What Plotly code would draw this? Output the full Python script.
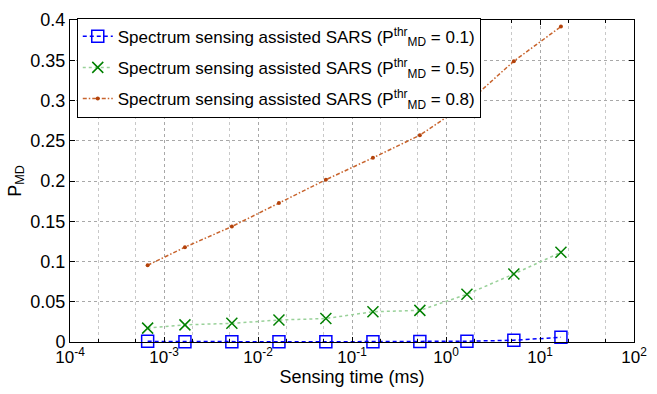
import plotly.graph_objects as go

# Sensing time (ms)
sensing_time = [6.7e-4, 1.67e-3, 5.27e-3, 0.0167, 0.0527, 0.167, 0.527, 1.67, 5.27, 16.7]

# P_MD for each threshold
pmd_thr01 = [0.0008, 0.0004, 0.0003, 0.0003, 0.0003, 0.0004, 0.0006, 0.0010, 0.0022, 0.0058]
pmd_thr05 = [0.0172, 0.0213, 0.0232, 0.0273, 0.0292, 0.0376, 0.0393, 0.0593, 0.0845, 0.1114]
pmd_thr08 = [0.0953, 0.1178, 0.1434, 0.1727, 0.2016, 0.2288, 0.2568, 0.2965, 0.3489, 0.3918]

series_names = [
    "Spectrum sensing assisted SARS (P<sup>thr</sup><sub>MD</sub> = 0.1)",
    "Spectrum sensing assisted SARS (P<sup>thr</sup><sub>MD</sub> = 0.5)",
    "Spectrum sensing assisted SARS (P<sup>thr</sup><sub>MD</sub> = 0.8)",
]

x_tick_vals = [1e-4, 1e-3, 1e-2, 1e-1, 1e0, 1e1, 1e2]
x_tick_text = ["10<sup>-4</sup>", "10<sup>-3</sup>", "10<sup>-2</sup>", "10<sup>-1</sup>",
               "10<sup>0</sup>", "10<sup>1</sup>", "10<sup>2</sup>"]

fig = go.Figure()

fig.add_trace(go.Scatter(
    x=sensing_time, y=pmd_thr01, name=series_names[0], mode="lines+markers",
    legendgroup="a",
    line=dict(color="#0000ff", width=1.5, dash="4px,3px"),
    marker=dict(symbol="square-open", size=12, color="#0000ff", line=dict(width=1.5)),
    cliponaxis=False,
))
fig.add_trace(go.Scatter(
    x=sensing_time, y=pmd_thr05, name=series_names[1], mode="lines+markers",
    legendgroup="b",
    line=dict(color="#99d199", width=1.5, dash="dot"),
    marker=dict(symbol="x-thin-open", size=11, color="#008000", line=dict(width=1.5, color="#008000")),
    cliponaxis=False,
))
fig.add_trace(go.Scatter(
    x=sensing_time, y=pmd_thr08, name=series_names[2], mode="lines+markers",
    legendgroup="c",
    line=dict(color="#c8642d", width=1.5, dash="4px,2px,1.5px,2px"),
    marker=dict(symbol="circle", size=4, color="#b4420a"),
    cliponaxis=False,
))

font_family = "Liberation Sans, Arial, Helvetica, sans-serif"

fig.update_layout(
    width=657, height=394,
    margin=dict(l=70, r=13, t=10, b=52),
    paper_bgcolor="white", plot_bgcolor="white",
    font=dict(family=font_family, size=18, color="black"),
    showlegend=True,
    legend=dict(
        x=0.012, y=1.007, xanchor="left", yanchor="top",
        bgcolor="white", bordercolor="black", borderwidth=1,
        font=dict(size=17), itemwidth=30, tracegroupgap=6,
    ),
)

fig.update_xaxes(
    type="log", range=[-4, 2],
    tickvals=x_tick_vals, ticktext=x_tick_text,
    ticks="inside", ticklen=5, tickcolor="black",
    showline=True, linecolor="black", linewidth=1, mirror="allticks",
    showgrid=True, gridcolor="#a8a8a8", griddash="dot", gridwidth=1,
    minor=dict(ticks="inside", ticklen=3, tickcolor="black", showgrid=True,
               gridcolor="#c8c8c8", griddash="dot"),
    zeroline=False,
    ticklabeloverflow="allow",
    title=dict(text="Sensing time (ms)", standoff=2, font=dict(size=18)),
    tickfont=dict(size=17),
)

fig.update_yaxes(
    range=[0, 0.4], dtick=0.05, tick0=0,
    ticks="inside", ticklen=5, tickcolor="black",
    showline=True, linecolor="black", linewidth=1, mirror="allticks",
    showgrid=True, gridcolor="#a8a8a8", griddash="dot", gridwidth=1,
    zeroline=False,
    title=dict(text="P<sub>MD</sub>", standoff=4, font=dict(size=18)),
    tickfont=dict(size=18),
)

fig.write_html("out.html")
